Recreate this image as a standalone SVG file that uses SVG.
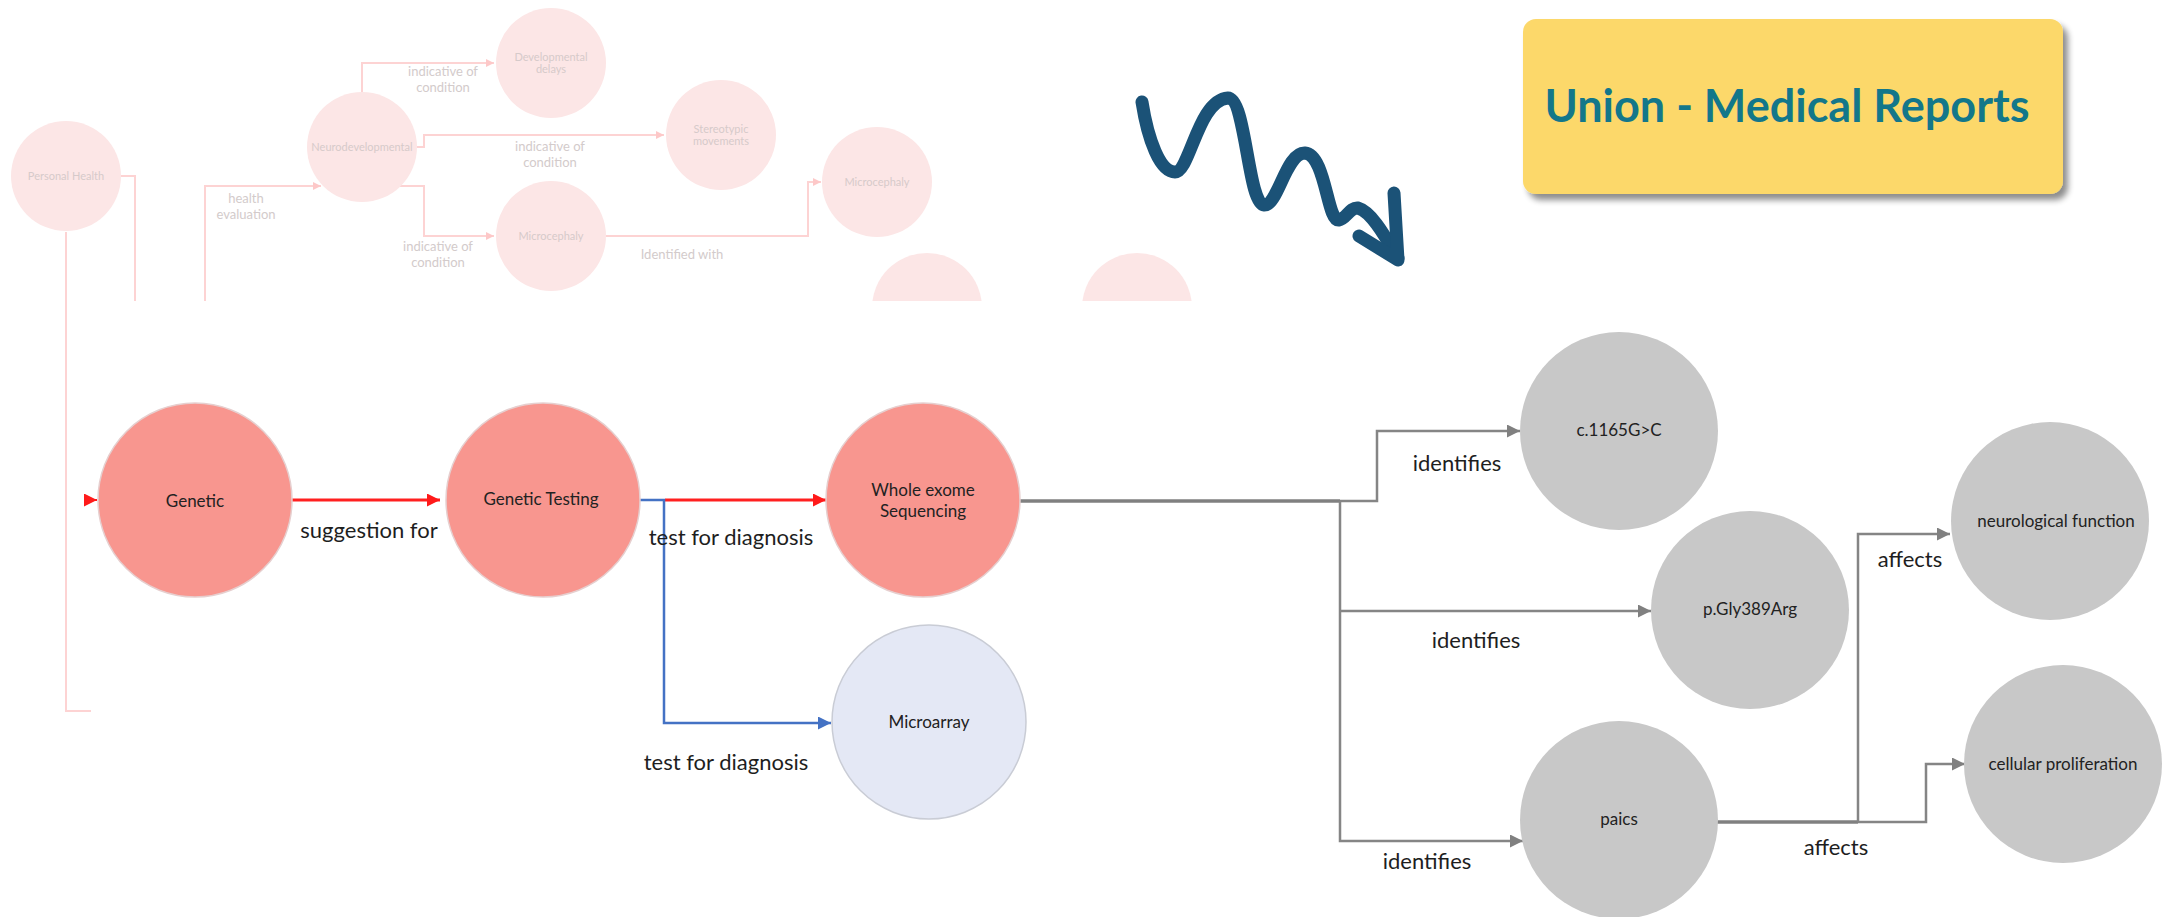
<svg xmlns="http://www.w3.org/2000/svg" width="2162" height="917" viewBox="0 0 2162 917">
<style>
.fnode{fill:#FCE6E6;}
.fline{fill:none;stroke:#FDD3D3;stroke-width:2;}
.ftxt{font-family:Lato,"Liberation Sans",sans-serif;font-size:11px;fill:#D6CACA;text-anchor:middle;}
.flbl{font-family:Lato,"Liberation Sans",sans-serif;font-size:13px;fill:#D3CBCB;text-anchor:middle;}
.salmon{fill:#F8968F;stroke:#E6CFCF;stroke-width:1.5;}
.gray{fill:#C8C8C8;}
.blueish{fill:#E4E8F5;stroke:#C9CCD5;stroke-width:1.5;}
.ntxt{font-family:Lato,"Liberation Sans",sans-serif;font-size:17px;fill:#222;text-anchor:middle;}
.elbl{font-family:Lato,"Liberation Sans",sans-serif;font-size:22px;fill:#1E1E1E;text-anchor:middle;}
.gline{fill:none;stroke:#858585;stroke-width:2.5;}
</style>
<defs>
<marker id="ared" viewBox="0 0 10 10" refX="10" refY="5" markerWidth="15" markerHeight="13" markerUnits="userSpaceOnUse" orient="auto"><path d="M0,0 L10,5 L0,10 Z" fill="#FF1A1A"/></marker>
<marker id="ablue" viewBox="0 0 10 10" refX="10" refY="5" markerWidth="15" markerHeight="13" markerUnits="userSpaceOnUse" orient="auto"><path d="M0,0 L10,5 L0,10 Z" fill="#4472C4"/></marker>
<marker id="agray" viewBox="0 0 10 10" refX="10" refY="5" markerWidth="15" markerHeight="13" markerUnits="userSpaceOnUse" orient="auto"><path d="M0,0 L10,5 L0,10 Z" fill="#808080"/></marker>
<marker id="apink" viewBox="0 0 10 10" refX="10" refY="5" markerWidth="9" markerHeight="8" markerUnits="userSpaceOnUse" orient="auto"><path d="M0,0 L10,5 L0,10 Z" fill="#FDC8C8"/></marker>
<clipPath id="topclip"><rect x="0" y="0" width="2162" height="301"/></clipPath>
<filter id="shadow" x="-10%" y="-10%" width="130%" height="140%"><feGaussianBlur in="SourceAlpha" stdDeviation="3"/><feOffset dx="5" dy="6" result="b"/><feComponentTransfer><feFuncA type="linear" slope="0.45"/></feComponentTransfer><feMerge><feMergeNode/><feMergeNode in="SourceGraphic"/></feMerge></filter>
</defs>

<!-- faded background diagram -->
<g id="faded" clip-path="url(#topclip)">
  <g id="faded-connectors">
    <path class="fline" d="M121,176 H135 V301"/>
    <path class="fline" d="M205,301 V186 H321" marker-end="url(#apink)"/>
    <path class="fline" d="M362,92 V63 H494" marker-end="url(#apink)"/>
    <path class="fline" d="M417,147 H424 V135 H664" marker-end="url(#apink)"/>
    <path class="fline" d="M400,186 H424 V236 H494" marker-end="url(#apink)"/>
    <path class="fline" d="M606,236 H808 V182 H821" marker-end="url(#apink)"/>
    <text class="flbl" x="246" y="203">health</text>
    <text class="flbl" x="246" y="219">evaluation</text>
    <text class="flbl" x="443" y="76">indicative of</text>
    <text class="flbl" x="443" y="92">condition</text>
    <text class="flbl" x="550" y="151">indicative of</text>
    <text class="flbl" x="550" y="167">condition</text>
    <text class="flbl" x="438" y="251">indicative of</text>
    <text class="flbl" x="438" y="267">condition</text>
    <text class="flbl" x="682" y="259">Identified with</text>
  </g>
  <g id="n-personal-health"><circle class="fnode" cx="66" cy="176" r="55"/><text class="ftxt" x="66" y="180">Personal Health</text></g>
  <g id="n-neurodevelopmental"><circle class="fnode" cx="362" cy="147" r="55"/><text class="ftxt" x="362" y="151">Neurodevelopmental</text></g>
  <g id="n-developmental-delays"><circle class="fnode" cx="551" cy="63" r="55"/><text class="ftxt" x="551" y="61">Developmental</text><text class="ftxt" x="551" y="73">delays</text></g>
  <g id="n-stereotypic"><circle class="fnode" cx="721" cy="135" r="55"/><text class="ftxt" x="721" y="133">Stereotypic</text><text class="ftxt" x="721" y="145">movements</text></g>
  <g id="n-microcephaly"><circle class="fnode" cx="551" cy="236" r="55"/><text class="ftxt" x="551" y="240">Microcephaly</text></g>
  <g id="n-microcephaly2"><circle class="fnode" cx="877" cy="182" r="55"/><text class="ftxt" x="877" y="186">Microcephaly</text></g>
  <g id="n-partial1"><circle class="fnode" cx="927" cy="308" r="55"/></g>
  <g id="n-partial2"><circle class="fnode" cx="1137" cy="308" r="55"/></g>
</g>
<path class="fline" d="M66,232 V711 H91"/>

<!-- squiggle arrow -->
<g id="squiggle" fill="none" stroke="#1B5277" stroke-width="13" stroke-linecap="round" stroke-linejoin="round">
  <path d="M1142,102 C1148,140 1160,172 1175,172 C1190,172 1198,100 1228,98 C1246,98 1248,204 1264,205 C1278,206 1286,152 1305,153 C1326,155 1327,222 1339,220 C1346,219 1350,207 1358,208 C1372,212 1386,238 1398,258"/>
  <path d="M1359,236 L1398,260 L1394,193"/>
</g>

<!-- title -->
<g id="title">
  <rect x="1523" y="19" width="540" height="175" rx="13" fill="#FCD86A" filter="url(#shadow)"/>
  <text x="1787" y="122" font-family="Lato,'Liberation Sans',sans-serif" font-weight="bold" font-size="45" fill="#13778A" text-anchor="middle">Union - Medical Reports</text>
</g>

<!-- connectors -->
<g id="connectors">
  <path d="M91,500 L97,500" stroke="#FF1A1A" stroke-width="2" marker-end="url(#ared)"/>
  <path d="M292,500 H440" fill="none" stroke="#FF2020" stroke-width="3" marker-end="url(#ared)"/>
  <path d="M665,500 H826" fill="none" stroke="#FF2020" stroke-width="3" marker-end="url(#ared)"/>
  <path d="M640,500 H664 V723 H831" fill="none" stroke="#4472C4" stroke-width="2.5" marker-end="url(#ablue)"/>
  <path d="M1020,501 H1340" fill="none" stroke="#808080" stroke-width="3.5"/>
  <path class="gline" d="M1340,501 H1377 V431 H1520" marker-end="url(#agray)"/>
  <path class="gline" d="M1340,501 V841 H1523" marker-end="url(#agray)"/>
  <path class="gline" d="M1340,611 H1651" marker-end="url(#agray)"/>
  <path d="M1717,822 H1858" fill="none" stroke="#808080" stroke-width="3.5"/>
  <path class="gline" d="M1858,822 V534 H1950" marker-end="url(#agray)"/>
  <path class="gline" d="M1858,822 H1926 V764 H1965" marker-end="url(#agray)"/>
  <text class="elbl" x="369" y="538">suggestion for</text>
  <text class="elbl" x="731" y="545">test for diagnosis</text>
  <text class="elbl" x="726" y="770">test for diagnosis</text>
  <text class="elbl" x="1457" y="471">identifies</text>
  <text class="elbl" x="1476" y="648">identifies</text>
  <text class="elbl" x="1427" y="869">identifies</text>
  <text class="elbl" x="1910" y="567">affects</text>
  <text class="elbl" x="1836" y="855">affects</text>
</g>

<!-- nodes -->
<g id="n-genetic"><circle class="salmon" cx="195" cy="500" r="97"/><text class="ntxt" x="195" y="507">Genetic</text></g>
<g id="n-genetic-testing"><circle class="salmon" cx="543" cy="500" r="97"/><text class="ntxt" x="541" y="505">Genetic Testing</text></g>
<g id="n-whole-exome"><circle class="salmon" cx="923" cy="500" r="97"/><text class="ntxt" x="923" y="496">Whole exome</text><text class="ntxt" x="923" y="517">Sequencing</text></g>
<g id="n-microarray"><circle class="blueish" cx="929" cy="722" r="97"/><text class="ntxt" x="929" y="728">Microarray</text></g>
<g id="n-c1165"><circle class="gray" cx="1619" cy="431" r="99"/><text class="ntxt" x="1619" y="436">c.1165G&gt;C</text></g>
<g id="n-pgly"><circle class="gray" cx="1750" cy="610" r="99"/><text class="ntxt" x="1750" y="615">p.Gly389Arg</text></g>
<g id="n-paics"><circle class="gray" cx="1619" cy="820" r="99"/><text class="ntxt" x="1619" y="825">paics</text></g>
<g id="n-neuro"><circle class="gray" cx="2050" cy="521" r="99"/><text class="ntxt" x="2056" y="527">neurological function</text></g>
<g id="n-cellular"><circle class="gray" cx="2063" cy="764" r="99"/><text class="ntxt" x="2063" y="770">cellular proliferation</text></g>
</svg>
